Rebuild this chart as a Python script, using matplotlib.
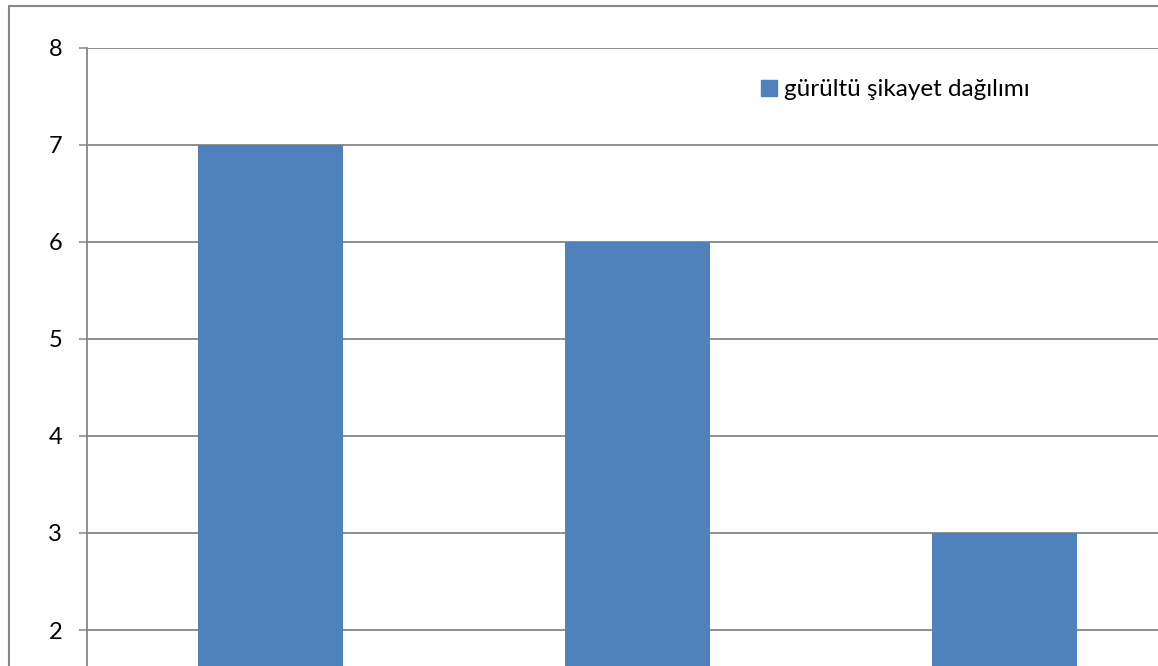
import matplotlib.pyplot as plt
from matplotlib.patches import Patch, Rectangle

categories = ["1", "2", "3"]
values = [7, 6, 3]
series_name = "gürültü şikayet dağılımı"
yticks = [2, 3, 4, 5, 6, 7, 8]

plt.rcParams['font.family'] = ['Lato', 'DejaVu Sans']
grey = "#868686"
bar_color = "#4F81BD"

W, H = 1158, 666
fig = plt.figure(figsize=(W / 100, H / 100), dpi=100)

# plot area runs past the right and bottom edges of the canvas
left, right = 87, 1188
top, bottom = 47.7, 47.7 + 8 * 97.05
ax = fig.add_axes([left / W, 1 - bottom / H, (right - left) / W, (bottom - top) / H])

x = range(len(categories))
ax.bar(x, values, width=0.395, color=bar_color, zorder=3)
ax.set_xlim(-0.5, 2.5)
ax.set_ylim(0, 8)
ax.set_yticks(yticks)
ax.set_xticks([])
ax.yaxis.grid(True, color=grey, lw=1.3, zorder=0)
ax.tick_params(axis='y', length=5.8, width=1.1, color=grey, pad=12, labelsize=17)

for side in ["top", "right", "bottom"]:
    ax.spines[side].set_visible(False)
ax.spines["left"].set_color(grey)
ax.spines["left"].set_linewidth(1.3)

# chart border
fig.patches.append(Rectangle((8.7 / W, -0.1), 1.2, 1 - 5.7 / H + 0.1,
                             transform=fig.transFigure, fill=False,
                             edgecolor=grey, lw=1.5, zorder=10))

handle = Patch(facecolor=bar_color, edgecolor=bar_color)
fig.legend([handle], [series_name], loc="center left",
           bbox_to_anchor=(761 / W, 1 - 90 / H), frameon=False,
           fontsize=17.5, handlelength=0.65, handleheight=0.65,
           handletextpad=0.3, borderpad=0, borderaxespad=0)

fig.savefig("out.png", dpi=100)
